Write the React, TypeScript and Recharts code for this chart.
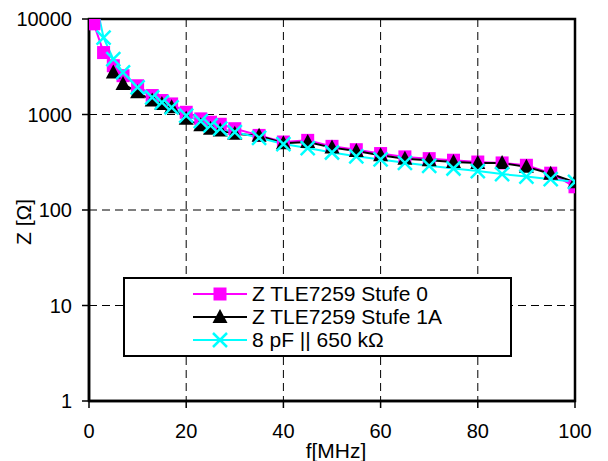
import {
    LineChart,
    Line,
    XAxis,
    YAxis,
    CartesianGrid,
    ReferenceArea,
    Legend
} from 'recharts';

const stufe0F = [1, 3, 5, 7, 10, 13, 15, 17, 20, 23, 25, 27, 30, 35, 40, 45, 50, 55, 60, 65, 70, 75, 80, 85, 90, 95, 100];
const stufe0Z = [8900, 4450, 3240, 2550, 2000, 1580, 1400, 1290, 1055, 900, 830, 790, 710, 604, 515, 536, 464, 428, 390, 360, 345, 332, 318, 311, 294, 243, 175];

const stufe1AF = [5, 7, 10, 13, 15, 17, 20, 23, 25, 27, 30, 35, 40, 45, 50, 55, 60, 65, 70, 75, 80, 85, 90, 95, 100];
const stufe1AZ = [2760, 2090, 1710, 1400, 1290, 1190, 900, 770, 710, 680, 630, 600, 500, 515, 450, 415, 375, 345, 332, 318, 310, 310, 283, 240, 195];

const modelF = [1, 3, 5, 7, 10, 13, 15, 17, 20, 23, 25, 27, 30, 35, 40, 45, 50, 55, 60, 65, 70, 75, 80, 85, 90, 95, 100];
const modelZ = [19000, 6380, 3800, 2760, 1920, 1510, 1340, 1190, 975, 850, 770, 710, 655, 570, 490, 445, 400, 365, 338, 312, 290, 272, 256, 238, 224, 210, 197];

const xTicks = [0, 20, 40, 60, 80, 100];
const yTicks = [1, 10, 100, 1000, 10000];

const toRows = (f: number[], z: number[]) => f.map((v, i) => ({ f: v, z: z[i] }));

const MAGENTA = '#FF00FF';
const CYAN = '#00FFFF';
const FONT = 'Arial, "Liberation Sans", sans-serif';

const SquareDot = (props: any) => {
    const { cx, cy, index } = props;
    if (cx == null || cy == null) return null;
    return <rect key={`sq-${index}`} x={cx - 6.5} y={cy - 6.5} width={13} height={13} fill={MAGENTA} />;
};

const TriangleDot = (props: any) => {
    const { cx, cy, index } = props;
    if (cx == null || cy == null) return null;
    return (
        <path
            key={`tr-${index}`}
            d={`M${cx},${cy - 8} L${cx + 7.5},${cy + 6} L${cx - 7.5},${cy + 6} Z`}
            fill="#000"
        />
    );
};

const CrossDot = (props: any) => {
    const { cx, cy, index } = props;
    if (cx == null || cy == null) return null;
    return (
        <path
            key={`cr-${index}`}
            d={`M${cx - 7},${cy - 7} L${cx + 7},${cy + 7} M${cx + 7},${cy - 7} L${cx - 7},${cy + 7}`}
            stroke={CYAN}
            strokeWidth={2.5}
            fill="none"
        />
    );
};

const series = [
    { name: 'Z TLE7259 Stufe 0', color: MAGENTA, rows: toRows(stufe0F, stufe0Z), dot: SquareDot },
    { name: 'Z TLE7259 Stufe 1A', color: '#000000', rows: toRows(stufe1AF, stufe1AZ), dot: TriangleDot },
    { name: '8 pF || 650 kΩ', color: CYAN, rows: toRows(modelF, modelZ), dot: CrossDot },
];

const LegendBox = () => (
    <div
        style={{
            boxSizing: 'border-box',
            width: 389,
            height: 80,
            border: '2.5px solid #000',
            background: '#fff',
            padding: '3px 0 0 68px',
            fontFamily: FONT,
            fontSize: 21,
            color: '#000'
        }}
    >
        {series.map((s) => {
            const Dot = s.dot;
            return (
                <div key={s.name} style={{ display: 'flex', alignItems: 'center', height: 23 }}>
                    <svg width={54} height={20} style={{ marginRight: 5, flexShrink: 0 }}>
                        <line x1={0} y1={10} x2={54} y2={10} stroke={s.color} strokeWidth={2} />
                        <Dot cx={27} cy={10} index={0} />
                    </svg>
                    <span style={{ whiteSpace: 'nowrap' }}>{s.name}</span>
                </div>
            );
        })}
    </div>
);

const renderYLabel = () => (
    <text
        x={23}
        y={222}
        transform="rotate(-90 23 222)"
        textAnchor="middle"
        dominantBaseline="central"
        fontFamily={FONT}
        fontSize={21}
        fill="#000"
    >
        Z [Ω]
    </text>
);

const renderXLabel = () => (
    <text
        x={336}
        y={450}
        textAnchor="middle"
        dominantBaseline="central"
        fontFamily={FONT}
        fontSize={21}
        fill="#000"
    >
        f[MHz]
    </text>
);

const App = () => {
    const tickStyle = { fontFamily: FONT, fontSize: 20, fill: '#000' };
    return (
        <div style={{ position: 'absolute', left: 0, top: 0, background: '#fff' }}>
            <LineChart
                width={608}
                height={461}
                margin={{ top: 19, right: 33, left: 29, bottom: 10 }}
            >
                <CartesianGrid
                    stroke="#000"
                    strokeDasharray="8 5"
                    strokeWidth={1}
                    horizontalValues={[10, 100, 1000]}
                    verticalValues={[20, 40, 60, 80]}
                />
                <XAxis
                    type="number"
                    dataKey="f"
                    domain={[0, 100]}
                    ticks={xTicks}
                    allowDataOverflow
                    height={50}
                    tick={tickStyle}
                    tickSize={7}
                    tickMargin={16}
                    axisLine={{ stroke: '#000', strokeWidth: 2.5 }}
                    tickLine={{ stroke: '#000', strokeWidth: 1.5 }}
                    label={renderXLabel}
                />
                <YAxis
                    type="number"
                    dataKey="z"
                    scale="log"
                    domain={[1, 10000]}
                    ticks={yTicks}
                    allowDataOverflow
                    width={60}
                    tick={tickStyle}
                    tickSize={7}
                    tickMargin={10}
                    axisLine={{ stroke: '#000', strokeWidth: 2.5 }}
                    tickLine={{ stroke: '#000', strokeWidth: 1.5 }}
                    label={renderYLabel}
                />
                <ReferenceArea x1={0} x2={100} y1={1} y2={10000} fill="none" stroke="#000" strokeWidth={2.5} fillOpacity={0} />
                {series.map((s) => (
                    <Line
                        key={s.name}
                        data={s.rows}
                        dataKey="z"
                        name={s.name}
                        type="linear"
                        stroke={s.color}
                        strokeWidth={2}
                        dot={s.dot}
                        activeDot={false}
                        isAnimationActive={false}
                    />
                ))}
                <Legend
                    layout="vertical"
                    align="center"
                    verticalAlign="middle"
                    content={<LegendBox />}
                    wrapperStyle={{ left: 123, top: 277, width: 389, height: 80 }}
                />
            </LineChart>
        </div>
    );
};

export default App;
